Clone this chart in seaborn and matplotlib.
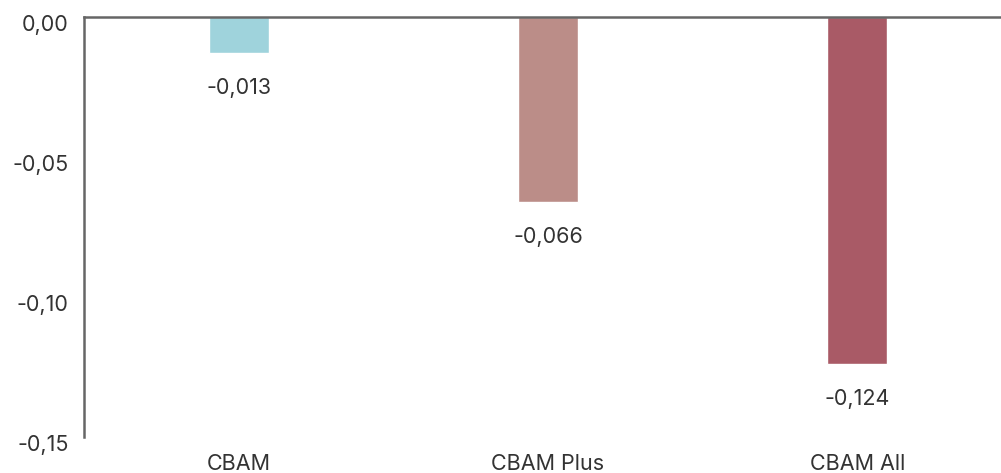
import matplotlib
matplotlib.use("Agg")
import matplotlib.pyplot as plt
import matplotlib.transforms as mtransforms
import seaborn as sns
import pandas as pd

categories = ["CBAM", "CBAM Plus", "CBAM All"]
values = [-0.013, -0.066, -0.124]
bar_colors = ["#9fd3dc", "#bb8d88", "#a95a66"]
yticks = [0.0, -0.05, -0.10, -0.15]

sns.set_style("white")
plt.rcParams['font.family'] = ['Inter', 'DejaVu Sans']

df = pd.DataFrame({"category": categories, "value": values})

fig = plt.figure(figsize=(10.01, 4.73), dpi=100)
ax = fig.add_axes([0.084, 0.076, 0.916, 0.888])
sns.barplot(data=df, x="category", y="value", hue="category", palette=bar_colors,
            width=0.195, saturation=1, legend=False, ax=ax)

ax.set_ylim(-0.15, 0)
ax.set_xlim(-0.5, 2.465)
ax.set_yticks(yticks)
ax.set_yticklabels([("%.2f" % t).replace(".", ",") for t in yticks])
ax.set_xlabel("")
ax.set_ylabel("")

txt_color = "#333333"
ax.tick_params(axis="y", length=0, pad=11, labelsize=15.5, labelcolor=txt_color)
ax.tick_params(axis="x", length=0, pad=12, labelsize=15.5, labelcolor=txt_color)
# nudge y labels down a little like the original
off = mtransforms.ScaledTranslation(0, -6 / 100, fig.dpi_scale_trans)
for lab in ax.get_yticklabels():
    lab.set_transform(lab.get_transform() + off)

for side in ["bottom", "right"]:
    ax.spines[side].set_visible(False)
for side in ["top", "left"]:
    ax.spines[side].set_color("#666666")
    ax.spines[side].set_linewidth(1.8)

# value labels under each bar
for i, v in enumerate(values):
    ax.annotate(("%.3f" % v).replace(".", ","), xy=(i, v), xytext=(0, -25),
                textcoords="offset points", ha="center", va="center",
                fontsize=15.5, color=txt_color)

fig.savefig("out.png", dpi=100)
